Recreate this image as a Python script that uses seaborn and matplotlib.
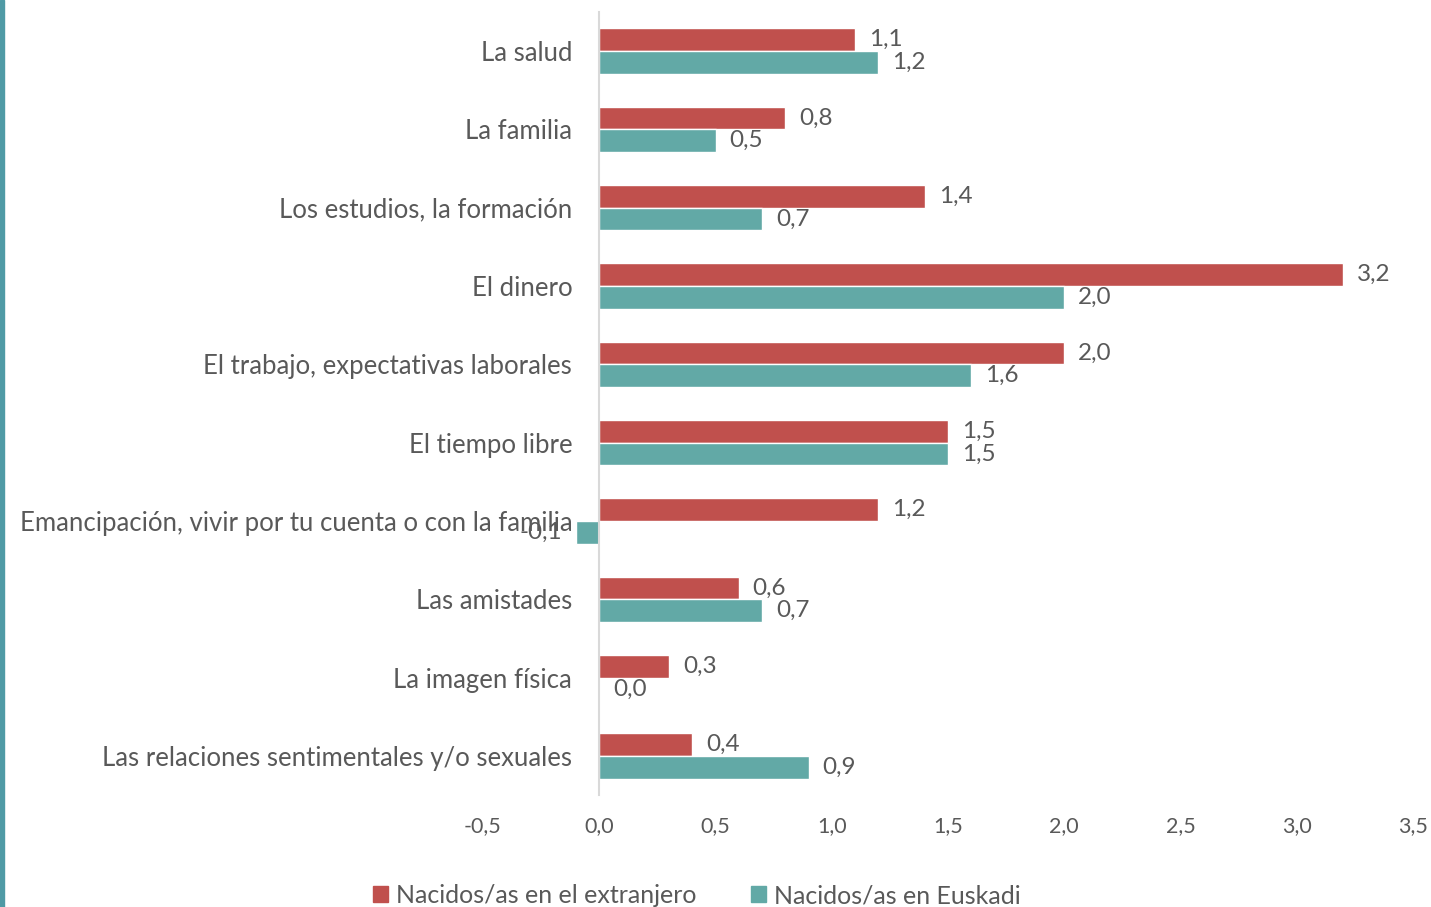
import matplotlib.pyplot as plt
import matplotlib.patches as mpatches
import seaborn as sns
import pandas as pd

categorias = ['La salud', 'La familia', 'Los estudios, la formación', 'El dinero',
              'El trabajo, expectativas laborales', 'El tiempo libre',
              'Emancipación, vivir por tu cuenta o con la familia', 'Las amistades',
              'La imagen física', 'Las relaciones sentimentales y/o sexuales']
extranjero = [1.1, 0.8, 1.4, 3.2, 2.0, 1.5, 1.2, 0.6, 0.3, 0.4]
euskadi = [1.2, 0.5, 0.7, 2.0, 1.6, 1.5, -0.1, 0.7, 0.0, 0.9]
series = ['Nacidos/as en el extranjero', 'Nacidos/as en Euskadi']
xticks = [-0.5, 0.0, 0.5, 1.0, 1.5, 2.0, 2.5, 3.0, 3.5]

df = pd.DataFrame({
    'categoria': categorias * 2,
    'valor': extranjero + euskadi,
    'serie': [series[0]] * len(categorias) + [series[1]] * len(categorias),
})

sns.set_style('white')
plt.rcParams['font.family'] = ['Lato', 'DejaVu Sans']
gris = '#595959'
colores = ['#C0504D', '#62A9A6']

fig = plt.figure(figsize=(14.31, 9.07), dpi=100)
ax = fig.add_axes([0.3375, 0.1235, 0.65, 0.8633])

sns.barplot(data=df, x='valor', y='categoria', hue='serie', order=categorias,
            hue_order=series, palette=colores, orient='h', width=0.58,
            saturation=1, ax=ax, legend=False)

# etiquetas de datos
for cont in ax.containers:
    vals = cont.datavalues
    ax.bar_label(cont, labels=[f'{v:.1f}'.replace('.', ',') for v in vals],
                 padding=10, fontsize=17.5, color=gris)

ax.set_xlim(-0.5, 3.5)
ax.set_ylim(9.5, -0.5)
ax.set_xticks(xticks)
ax.set_xticklabels([f'{t:.1f}'.replace('.', ',') for t in xticks])
ax.set_xlabel('')
ax.set_ylabel('')

for s in ['top', 'right', 'bottom']:
    ax.spines[s].set_visible(False)
ax.spines['left'].set_position(('data', 0))
ax.spines['left'].set_color('#D9D9D9')
ax.spines['left'].set_linewidth(1.5)

ax.tick_params(axis='x', length=0, pad=15, labelsize=15.5, labelcolor=gris)
ax.tick_params(axis='y', length=0, pad=19.5, labelsize=18.5, labelcolor=gris)

# leyenda
handles = [mpatches.Patch(color=c, label=s) for c, s in zip(colores, series)]
fig.legend(handles=handles, loc='upper center', bbox_to_anchor=(0.487, 0.05),
           ncol=2, frameon=False, fontsize=18, labelcolor=gris,
           handlelength=0.6, handleheight=0.6, handletextpad=0.3, columnspacing=2.2)

# borde izquierdo
fig.add_artist(mpatches.Rectangle((0, 0), 0.0025, 1, transform=fig.transFigure,
                                  color='#4F9AA5'))

fig.savefig('out.png', dpi=100)
